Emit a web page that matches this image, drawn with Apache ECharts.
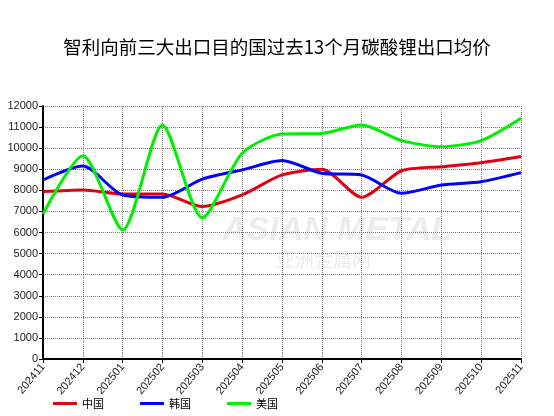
<!DOCTYPE html>
<html><head><meta charset="utf-8">
<script src="https://cdn.jsdelivr.net/npm/echarts@6/dist/echarts.min.js"></script>
<style>html,body{margin:0;padding:0;background:#fff}#c{width:554px;height:416px}</style>
</head><body><div id="c"></div>
<script>
const categories = ['202411','202412','202501','202502','202503','202504','202505','202506','202507','202508','202509','202510','202511'];
const china = [7940, 8020, 7830, 7830, 7230, 7780, 8730, 9000, 7670, 8930, 9120, 9310, 9600];
const korea = [8490, 9150, 7780, 7670, 8530, 8970, 9410, 8810, 8730, 7860, 8250, 8410, 8840];
const usa = [6880, 9640, 6120, 11100, 6700, 9760, 10670, 10700, 11100, 10360, 10070, 10360, 11420];
const seriesNames = ['中国','韩国','美国'];
const yTicks = {min:0, max:12000, interval:1000};

const chart = echarts.init(document.getElementById('c'));
const font = 'Arial, "Liberation Sans", "Noto Sans CJK SC", sans-serif';
function mk(name, data, color){
  return {name, type:'line', data, smooth:0.25, symbol:'none',
    lineStyle:{color, width:3}, itemStyle:{color}};
}
chart.setOption({
  animation:false,
  title:{text:'智利向前三大出口目的国过去13个月碳酸锂出口均价', left:'center', top:33,
    textStyle:{fontSize:18.5, fontWeight:'normal', color:'#000', fontFamily:'"Noto Sans CJK SC", sans-serif'}},
  graphic:[
    {type:'text', left:222, top:214, style:{text:'ASIAN METAL', fontSize:34, fontWeight:'bold', fontStyle:'italic', fill:'rgba(200,200,200,0.35)', fontFamily:font}},
    {type:'text', left:276, top:250, style:{text:'亚洲金属网', fontSize:19, fill:'rgba(200,200,200,0.35)', fontFamily:'"Noto Sans CJK SC", sans-serif'}}
  ],
  legend:{left:48, bottom:2, itemWidth:24, itemHeight:3, itemGap:36, icon:'rect',
    textStyle:{fontSize:11, color:'#000', fontFamily:'"Noto Sans CJK SC", sans-serif'},
    data:seriesNames},
  grid:{left:43, right:33, top:106, bottom:57, show:true, borderColor:'transparent'},
  xAxis:{type:'category', data:categories, boundaryGap:false,
    axisLine:{lineStyle:{color:'#000', width:2}},
    axisTick:{show:true, length:4, lineStyle:{color:'#000'}},
    axisLabel:{rotate:50, fontSize:11, color:'#222', fontFamily:font, margin:6, showMaxLabel:true, interval:0},
    splitLine:{show:true, lineStyle:{color:'#777', type:[1,1], width:1}}},
  yAxis:{type:'value', min:yTicks.min, max:yTicks.max, interval:yTicks.interval,
    axisLine:{show:true, lineStyle:{color:'#000', width:2}},
    axisTick:{show:true, length:4, lineStyle:{color:'#000'}},
    axisLabel:{fontSize:11, color:'#222', fontFamily:font, margin:5, formatter: v => String(v)},
    splitLine:{show:true, lineStyle:{color:'#777', type:[1,1], width:1}}},
  series:[mk(seriesNames[0], china, '#e00012'), mk(seriesNames[1], korea, '#0000ff'), mk(seriesNames[2], usa, '#00ee00')]
});
</script></body></html>
